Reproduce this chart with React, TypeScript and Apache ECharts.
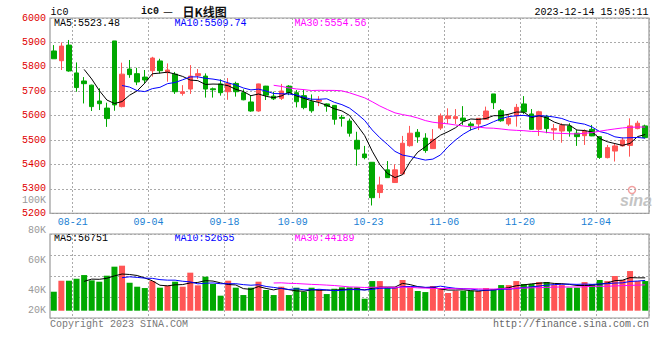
import React, { useEffect, useRef } from 'react';
import * as echarts from 'echarts';

const dates = [
  '08-16', '08-17', '08-18', '08-21', '08-22', '08-23', '08-24', '08-25', '08-28', '08-29', '08-30', '08-31',
  '09-01', '09-04', '09-05', '09-06', '09-07', '09-08', '09-11', '09-12', '09-13', '09-14', '09-15', '09-18',
  '09-19', '09-20', '09-21', '09-22', '09-25', '09-26', '09-27', '09-28',
  '10-09', '10-10', '10-11', '10-12', '10-13', '10-16', '10-17', '10-18', '10-19', '10-20', '10-23', '10-24',
  '10-25', '10-26', '10-27', '10-30', '10-31',
  '11-01', '11-02', '11-03', '11-06', '11-07', '11-08', '11-09', '11-10', '11-13', '11-14', '11-15', '11-16',
  '11-17', '11-20', '11-21', '11-22', '11-23', '11-24', '11-27', '11-28', '11-29', '11-30',
  '12-01', '12-04', '12-05', '12-06', '12-07', '12-08', '12-11', '12-12',
];

const opens = [
  5865, 5825, 5889, 5775, 5742, 5725, 5660, 5631, 5906, 5637,
  5791, 5772, 5758, 5784, 5824, 5776, 5770, 5691, 5709, 5764,
  5762, 5710, 5730, 5698, 5732, 5694, 5656, 5619, 5721, 5680,
  5671, 5721, 5694, 5682, 5657, 5659, 5648, 5642, 5593, 5578,
  5499, 5443, 5409, 5285, 5378, 5326, 5361, 5477, 5532, 5508,
  5465, 5549, 5588, 5588, 5590, 5566, 5566, 5585, 5689, 5620,
  5566, 5599, 5648, 5607, 5544, 5596, 5541, 5537, 5558, 5528,
  5518, 5544, 5514, 5428, 5455, 5476, 5478, 5547, 5558,
];
const closes = [
  5833, 5885, 5783, 5715, 5731, 5637, 5649, 5588, 5644, 5770,
  5768, 5738, 5746, 5836, 5784, 5787, 5698, 5698, 5762, 5772,
  5709, 5706, 5694, 5732, 5698, 5665, 5619, 5730, 5684, 5669,
  5701, 5694, 5657, 5633, 5620, 5664, 5639, 5585, 5589, 5528,
  5463, 5428, 5264, 5316, 5346, 5378, 5487, 5528, 5513, 5457,
  5503, 5599, 5599, 5596, 5579, 5559, 5589, 5619, 5653, 5579,
  5589, 5634, 5615, 5544, 5616, 5547, 5547, 5560, 5537, 5514,
  5537, 5517, 5429, 5469, 5476, 5500, 5558, 5569, 5510,
];
const lows = [
  5833, 5787, 5780, 5698, 5650, 5619, 5623, 5554, 5620, 5634,
  5755, 5725, 5732, 5760, 5773, 5739, 5689, 5682, 5689, 5750,
  5674, 5674, 5682, 5665, 5678, 5663, 5616, 5616, 5664, 5664,
  5664, 5684, 5634, 5626, 5612, 5639, 5616, 5563, 5555, 5514,
  5395, 5421, 5232, 5262, 5345, 5325, 5360, 5473, 5489, 5448,
  5464, 5541, 5566, 5566, 5562, 5539, 5541, 5584, 5627, 5575,
  5558, 5555, 5607, 5543, 5517, 5528, 5500, 5489, 5514, 5476,
  5480, 5516, 5423, 5425, 5412, 5473, 5432, 5544, 5507,
];
const highs = [
  5889, 5900, 5910, 5818, 5758, 5727, 5712, 5653, 5906, 5817,
  5828, 5796, 5787, 5841, 5833, 5814, 5779, 5725, 5807, 5791,
  5773, 5715, 5749, 5754, 5739, 5708, 5682, 5731, 5722, 5698,
  5730, 5725, 5705, 5705, 5687, 5680, 5650, 5643, 5603, 5588,
  5534, 5476, 5410, 5350, 5414, 5401, 5517, 5558, 5545, 5528,
  5545, 5609, 5630, 5627, 5639, 5575, 5590, 5637, 5689, 5627,
  5607, 5648, 5680, 5627, 5620, 5603, 5566, 5569, 5569, 5541,
  5544, 5562, 5515, 5480, 5487, 5511, 5589, 5579, 5563,
];
const volumes = [
  32600, 51500, 51500, 54900, 61200, 52100, 49800, 60100, 75600, 77300,
  48100, 41200, 38900, 50900, 39500, 43000, 49800, 41200, 65300, 43500,
  58400, 45800, 25800, 51500, 39500, 26900, 39500, 49800, 35500, 26900,
  41200, 26900, 39500, 32600, 39500, 36700, 28600, 37700, 40100, 40100,
  40100, 20600, 50900, 50900, 40100, 40100, 52700, 40100, 33800, 32000,
  42400, 38300, 30400, 34300, 34300, 34300, 34300, 38900, 36700, 44000,
  44000, 50900, 45800, 45800, 49200, 49200, 44000, 44000, 39500, 39500,
  49200, 45800, 52700, 50900, 59600, 52700, 68100, 50900, 50900,
];

const xTickLabels = ['08-21', '09-04', '09-18', '10-09', '10-23', '11-06', '11-20', '12-04'];
const priceMin = 5200;
const priceMax = 6000;
const priceStep = 100;
const volLabelMin = 20;
const volLabelMax = 100;
const volLabelStep = 20;
const priceHeader = ['MA5:5523.48', 'MA10:5509.74', 'MA30:5554.56'];
const volHeader = ['MA5:56751', 'MA10:52655', 'MA30:44189'];
const maPeriods = [5, 10, 30];

const MONO = "'Liberation Mono', 'DejaVu Sans Mono', monospace";
const RED = '#ff5555';
const GREEN = '#00a800';
const MA_COLORS = ['#000000', '#0000ff', '#ff00ff'];
const GRID_LINE = { color: '#aaaaaa', type: [2, 2] as any, width: 1 };

function movingAverage(arr: number[], n: number) {
  return arr.map((_, i) => {
    if (i < n - 1) return '-';
    let s = 0;
    for (let k = i - n + 1; k <= i; k++) s += arr[k];
    return +(s / n).toFixed(2);
  });
}

const isTickDate = (_i: number, v: string) => xTickLabels.indexOf(v) >= 0;

export default function App() {
  const ref = useRef<HTMLDivElement>(null);
  useEffect(() => {
    if (!ref.current) return;
    const chart = echarts.init(ref.current, null, { renderer: 'svg' });
    const kData = dates.map((_, i) => [opens[i], closes[i], lows[i], highs[i]]);
    const volData = volumes.map((v, i) => ({
      value: v,
      itemStyle: { color: closes[i] >= opens[i] ? RED : GREEN },
    }));
    const txt = (text: string, x: number, y: number, fill: string, extra: any = {}) => ({
      type: 'text',
      x,
      y,
      silent: true,
      style: {
        text,
        fill,
        fontSize: 10,
        fontFamily: MONO,
        verticalAlign: 'middle',
        align: 'left',
        ...extra,
      },
    });
    const headerX = [54, 174.5, 294.5];
    const option: any = {
      animation: false,
      backgroundColor: '#ffffff',
      grid: [
        { left: 50, top: 18, width: 599, height: 195.3, show: true, borderColor: '#999', borderWidth: 1.2 },
        { left: 50, top: 234, width: 599, height: 76.7 },
        { left: 50, top: 234, width: 599, height: 84, show: true, borderColor: '#999', borderWidth: 1.2 },
        { left: 50, top: 200.7, width: 599, height: 120 },
      ],
      xAxis: [
        {
          gridIndex: 0,
          type: 'category',
          data: dates,
          boundaryGap: true,
          axisLine: { show: false },
          axisTick: { show: false },
          axisLabel: {
            interval: isTickDate,
            color: '#1a7fd4',
            fontFamily: MONO,
            fontSize: 10,
            margin: 4,
            padding: [0, 7.6, 0, 0],
          },
          splitLine: { show: true, interval: isTickDate, lineStyle: GRID_LINE },
        },
        { gridIndex: 1, type: 'category', data: dates, boundaryGap: true, show: false },
        {
          gridIndex: 2,
          type: 'category',
          data: dates,
          boundaryGap: true,
          axisLine: { show: false },
          axisTick: { show: false },
          axisLabel: { show: false },
          splitLine: { show: true, interval: isTickDate, lineStyle: GRID_LINE },
        },
        { gridIndex: 3, type: 'value', show: false, min: 0, max: 1 },
      ],
      yAxis: [
        {
          gridIndex: 0,
          type: 'value',
          min: priceMin,
          max: priceMax,
          interval: priceStep,
          axisLine: { show: false },
          axisTick: { show: false },
          axisLabel: {
            color: '#e00000',
            fontFamily: MONO,
            fontSize: 10,
            margin: 4,
            padding: [0, 0, 4, 0],
            formatter: (v: number) => String(v),
          },
          splitLine: { show: true, lineStyle: GRID_LINE },
        },
        { gridIndex: 1, type: 'value', min: 0, max: 131700, show: false },
        {
          gridIndex: 2,
          type: 'value',
          min: 0,
          max: 4,
          interval: 1,
          axisLine: { show: false },
          axisTick: { show: false },
          axisLabel: { show: false },
          splitLine: { show: true, lineStyle: GRID_LINE },
        },
        {
          gridIndex: 3,
          type: 'value',
          min: volLabelMin,
          max: volLabelMax,
          interval: volLabelStep,
          axisLine: { show: false },
          axisTick: { show: false },
          splitLine: { show: false },
          axisLabel: {
            color: '#999999',
            fontFamily: MONO,
            fontSize: 10,
            margin: 4,
            formatter: (v: number) => (v === volLabelMin ? `{low|${v}K}` : `${v}K`),
            rich: {
              low: { color: '#999999', fontFamily: MONO, fontSize: 10, padding: [0, 0, 21, 0] },
            },
          },
        },
      ],
      series: [
        {
          type: 'candlestick',
          xAxisIndex: 0,
          yAxisIndex: 0,
          data: kData,
          barWidth: 5,
          itemStyle: { color: RED, color0: GREEN, borderColor: RED, borderColor0: GREEN, borderWidth: 1 },
        },
        ...maPeriods.map((n, k) => ({
          type: 'line',
          xAxisIndex: 0,
          yAxisIndex: 0,
          data: movingAverage(closes, n),
          symbol: 'none',
          lineStyle: { width: 1, color: MA_COLORS[k] },
          silent: true,
        })),
        {
          type: 'bar',
          xAxisIndex: 1,
          yAxisIndex: 1,
          data: volData,
          barWidth: 6,
        },
        ...maPeriods.map((n, k) => ({
          type: 'line',
          xAxisIndex: 1,
          yAxisIndex: 1,
          data: movingAverage(volumes, n),
          symbol: 'none',
          lineStyle: { width: 1, color: MA_COLORS[k] },
          silent: true,
        })),
      ],
      graphic: [
        txt('ic0', 50.5, 12, '#000'),
        txt('ic0', 141, 11, '#111', { fontWeight: 'bold' }),
        txt('－', 162, 11, '#111', { fontSize: 12, fontFamily: "'Noto Sans CJK SC'" }),
        txt('日K线图', 182.5, 11, '#111', { fontSize: 12, fontFamily: "'Noto Sans CJK SC'", fontWeight: 'bold' }),
        txt('2023-12-14 15:05:11', 648.5, 12, '#000', { align: 'right' }),
        ...priceHeader.map((t, k) => txt(t, headerX[k], 23.5, MA_COLORS[k])),
        ...volHeader.map((t, k) => txt(t, headerX[k], 238.5, MA_COLORS[k])),
        txt('Copyright 2023 SINA.COM', 50, 324, '#777'),
        txt('http://finance.sina.com.cn', 649, 324, '#666', { align: 'right' }),
        {
          type: 'circle',
          silent: true,
          shape: { cx: 632, cy: 190, r: 3.5 },
          style: { fill: 'none', stroke: '#f2a0a0', lineWidth: 1.5 },
        },
        txt('sina', 620, 200, '#c4c4c4', {
          fontSize: 16,
          fontFamily: "'Liberation Sans', Arial, sans-serif",
          fontWeight: 'bold',
          fontStyle: 'italic',
        }),
      ],
    };
    chart.setOption(option);
    return () => chart.dispose();
  }, []);
  return (
    <div
      ref={ref}
      style={{ position: 'fixed', left: 0, top: 0, width: 660, height: 360, background: '#fff' }}
    />
  );
}
